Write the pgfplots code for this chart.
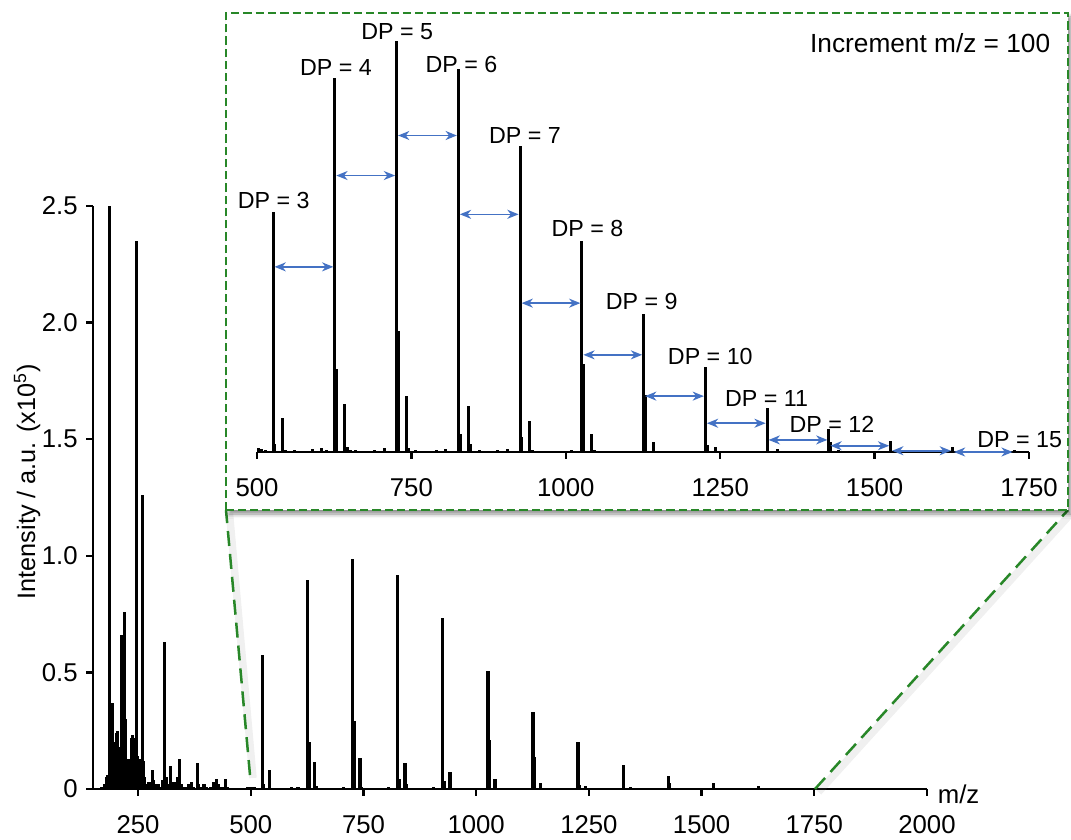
\documentclass[border=0pt]{standalone}
\usepackage{fontspec}
\setmainfont{Liberation Sans}
\usepackage{pgfplots}
\usepackage{pgfplotstable}
\pgfplotsset{compat=1.18}
\usetikzlibrary{arrows.meta,shadows.blur}

\definecolor{zoomgreen}{RGB}{40,135,40}
\definecolor{arrowblue}{RGB}{68,114,196}

% m/z, intensity (x10^5)
\pgfplotstableread{
mz I
170 0.01
176 0.02
180 0.05
183 0.06
187 2.50
190 0.30
192 0.37
194 0.36
196 0.20
198 0.17
200 0.12
202 0.24
204 0.25
206 0.18
208 0.13
210 0.13
212 0.10
214 0.66
216 0.40
218 0.12
220 0.76
222 0.30
224 0.10
226 0.08
228 0.07
230 0.13
232 0.09
234 0.07
236 0.22
238 0.23
240 0.15
242 0.22
244 0.12
247 2.35
249 0.14
251 0.13
253 0.12
255 0.13
257 0.10
259 1.26
261 0.12
263 0.05
266 0.02
270 0.02
274 0.03
278 0.02
282 0.08
285 0.04
288 0.02
292 0.01
296 0.02
300 0.01
304 0.04
309 0.63
312 0.05
316 0.02
322 0.10
326 0.03
330 0.01
334 0.03
338 0.05
342 0.13
345 0.02
350 0.01
356 0.01
362 0.02
368 0.03
372 0.01
381 0.11
384 0.02
390 0.01
396 0.02
402 0.01
410 0.01
418 0.03
424 0.045
428 0.02
436 0.01
444 0.045
448 0.01
456 0.005
470 0.005
482 0.005
494 0.01
502 0.01
508 0.008
514 0.005
526 0.575
529 0.02
542 0.082
546 0.005
560 0.004
590 0.008
605 0.01
612 0.006
626 0.898
629 0.20
642 0.115
646 0.012
652 0.006
660 0.004
690 0.005
706 0.01
726 0.985
729 0.29
742 0.134
746 0.01
756 0.006
790 0.004
806 0.008
826 0.918
829 0.043
842 0.11
845 0.02
860 0.005
890 0.004
906 0.008
926 0.735
929 0.036
942 0.074
946 0.005
1010 0.004
1026 0.507
1029 0.21
1042 0.043
1046 0.004
1126 0.33
1129 0.137
1142 0.024
1226 0.203
1229 0.017
1242 0.012
1326 0.105
1342 0.007
1426 0.055
1429 0.024
1442 0.004
1526 0.026
1626 0.012
1726 0.005
}\spectrum

\begin{document}
\begin{tikzpicture}
\pgfplotsset{
  every axis/.append style={
    scale only axis, clip=false,
    tick align=outside, major tick length=2.6pt,
    axis line style={line width=0.9pt},
    tick style={line width=0.9pt, black},
    ticklabel style={font=\fontsize{10.3}{12}\selectfont},
    xticklabel style={yshift=-4.5pt},
  }
}
% main spectrum
\begin{axis}[
  at={(0,0)}, anchor=south west,
  width=333.6pt, height=233.2pt,
  xmin=150, xmax=2000, ymin=0, ymax=2.5,
  axis lines*=left,
  xtick={250,500,750,1000,1250,1500,1750,2000},
  xticklabels={250,500,750,1000,1250,1500,1750,2000},
  ytick={0,0.5,1,1.5,2,2.5},
  yticklabels={0,0.5,1.0,1.5,2.0,2.5},
]
\addplot[ycomb, black, line width=1.3pt, mark=none] table[x=mz, y=I] {\spectrum};
\node[rotate=90, font=\fontsize{10.1}{12}\selectfont] at (axis description cs:-0.079,0.527) {Intensity / a.u. (x10\textsuperscript{5})};
\node[anchor=west, xshift=0.8pt, yshift=-2pt, font=\fontsize{10.3}{12}\selectfont] at (axis cs:2000,0) {m/z};
\end{axis}

% zoom lines
\draw[gray, opacity=0.12, line width=3pt] (64.0pt,4.4pt) -- (54.6pt,110.2pt);
\draw[gray, opacity=0.12, line width=3pt] (290.2pt,-1.2pt) -- (391.2pt,110.2pt);
\draw[zoomgreen, line width=1pt, dash pattern=on 6pt off 3.2pt] (62.8pt,5.6pt) -- (53.2pt,111.6pt);
\draw[zoomgreen, line width=1pt, dash pattern=on 6pt off 3.2pt] (288.8pt,0pt) -- (390pt,111.6pt);

% inset frame
\draw[zoomgreen, line width=1pt, dash pattern=on 3.3pt off 1.6pt, fill=white,
  blur shadow={shadow xshift=1.2pt, shadow yshift=-1.6pt, shadow blur radius=1.6pt, shadow opacity=45}]
  (53.2pt,111.6pt) rectangle (390pt,310.4pt);

% inset spectrum
\begin{axis}[
  at={(65.6pt,134.8pt)}, anchor=south west,
  width=308.8pt, height=166.8pt,
  xmin=500, xmax=1750, ymin=0, ymax=1,
  axis x line*=bottom, axis y line=none, ytick=\empty,
  xtick={500,750,1000,1250,1500,1750},
  xticklabels={500,750,1000,1250,1500,1750},
  restrict x to domain=500:1750,
]
\addplot[ycomb, black, line width=1.2pt, mark=none] table[x=mz, y=I] {\spectrum};

\tikzset{inc/.style={arrowblue, line width=0.6pt, shorten <=0.6pt, shorten >=0.6pt,
  {Stealth[length=4.5pt, width=3.6pt, inset=1.4pt]}-{Stealth[length=4.5pt, width=3.6pt, inset=1.4pt]}}}
\draw[inc] (axis cs:526,0.444) -- (axis cs:626,0.444);
\draw[inc] (axis cs:626,0.663) -- (axis cs:726,0.663);
\draw[inc] (axis cs:726,0.759) -- (axis cs:826,0.759);
\draw[inc] (axis cs:826,0.570) -- (axis cs:926,0.570);
\draw[inc] (axis cs:926,0.357) -- (axis cs:1026,0.357);
\draw[inc] (axis cs:1026,0.233) -- (axis cs:1126,0.233);
\draw[inc] (axis cs:1126,0.134) -- (axis cs:1226,0.134);
\draw[inc] (axis cs:1226,0.069) -- (axis cs:1326,0.069);
\draw[inc] (axis cs:1326,0.029) -- (axis cs:1426,0.029);
\draw[inc] (axis cs:1426,0.015) -- (axis cs:1526,0.015);
\draw[inc] (axis cs:1526,0.003) -- (axis cs:1626,0.003);
\draw[inc] (axis cs:1626,0.0) -- (axis cs:1726,0.0);

\tikzset{dp/.style={anchor=base, font=\fontsize{9.3}{11}\selectfont, inner sep=0pt}}
\node[dp] at (axis cs:527,0.583) {DP = 3};
\node[dp] at (axis cs:628,0.904) {DP = 4};
\node[dp] at (axis cs:727,0.990) {DP = 5};
\node[dp] at (axis cs:831,0.911) {DP = 6};
\node[dp] at (axis cs:934,0.739) {DP = 7};
\node[dp] at (axis cs:1035,0.516) {DP = 8};
\node[dp] at (axis cs:1123,0.341) {DP = 9};
\node[dp] at (axis cs:1234,0.209) {DP = 10};
\node[dp] at (axis cs:1325,0.110) {DP = 11};
\node[dp] at (axis cs:1431,0.046) {DP = 12};
\node[dp] at (axis cs:1735,0.012) {DP = 15};
\end{axis}

\node[anchor=east, font=\fontsize{10.5}{12}\selectfont] at (386.4pt,298.4pt) {Increment m/z = 100};

\pgfresetboundingbox
\path[use as bounding box] (-37.2pt,-20pt) rectangle (391.2pt,315.6pt);
\end{tikzpicture}
\end{document}
